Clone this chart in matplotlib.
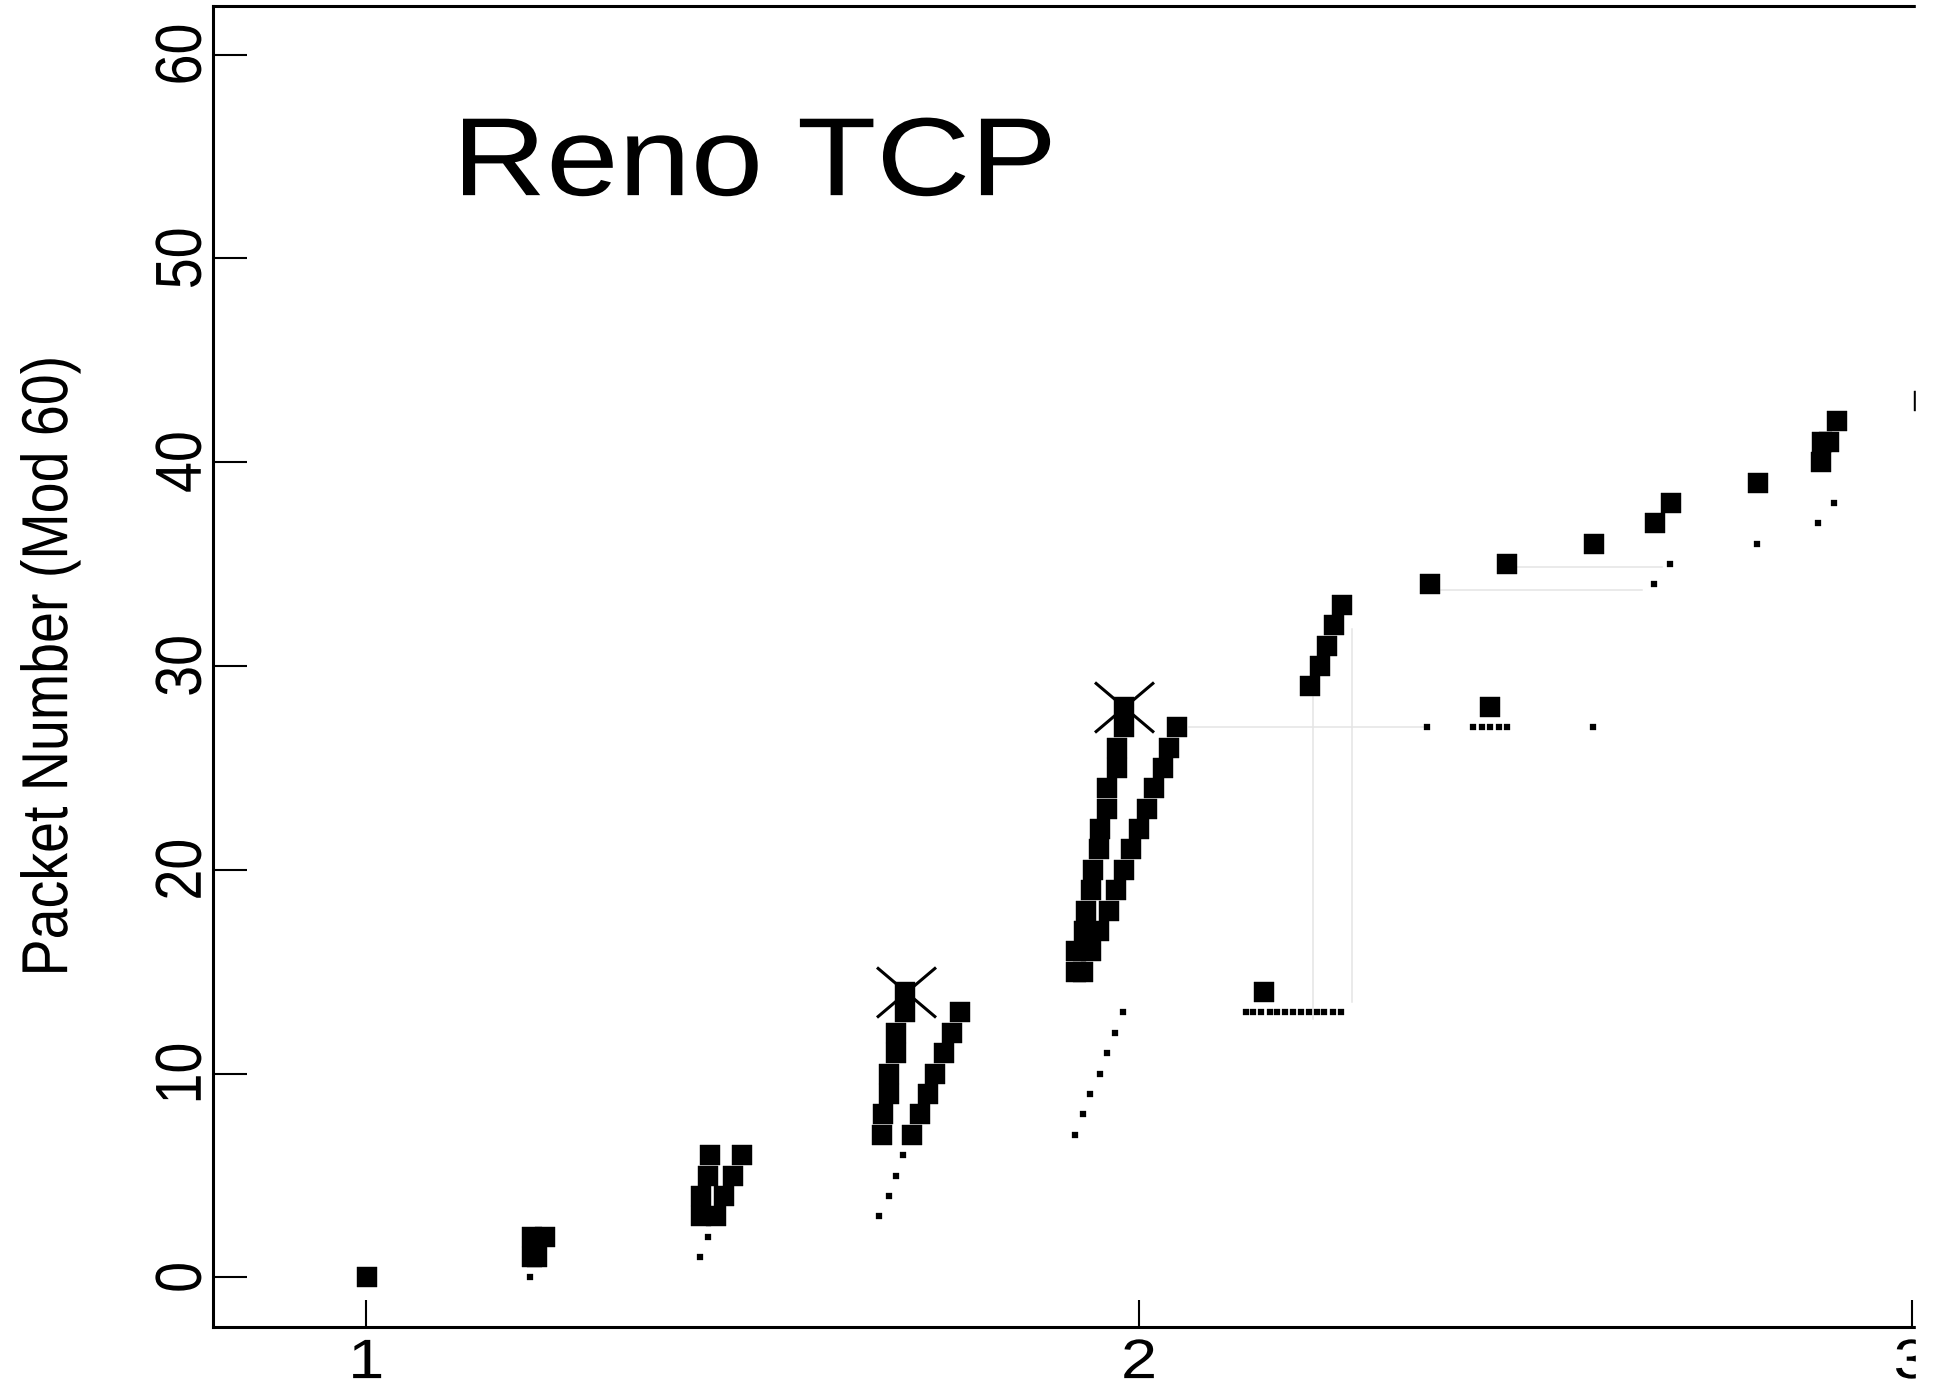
import matplotlib
matplotlib.use('Agg')
import matplotlib.pyplot as plt
import matplotlib.patheffects as pe
from matplotlib.path import Path
from matplotlib.patches import Rectangle
from matplotlib.transforms import Affine2D

plt.rcParams['font.family'] = ['Liberation Sans', 'DejaVu Sans']

# ------------------------- DATA -------------------------

# packets sent / leaving the queue (time in s, packet number mod 60)
pkt_time = [1.001,
            1.214, 1.221, 1.214, 1.231,
            1.433, 1.453, 1.433, 1.463, 1.442, 1.475, 1.445, 1.486,
            1.667, 1.669, 1.677, 1.677, 1.686, 1.686, 1.697, 1.697,
            1.706, 1.717, 1.727, 1.736, 1.748, 1.758, 1.768,
            1.918, 1.918, 1.929, 1.932, 1.938, 1.940, 1.948, 1.950,
            1.959, 1.959, 1.971, 1.971, 1.980, 1.980,
            1.927, 1.938, 1.948, 1.961, 1.970, 1.980, 1.990, 2.000,
            2.010, 2.019, 2.031, 2.039, 2.049,
            2.162,
            2.221, 2.234, 2.244, 2.253, 2.263,
            2.377, 2.455, 2.476, 2.589, 2.668, 2.688, 2.801,
            2.883, 2.884, 2.893, 2.903, 3.016]
pkt_num = [0,
           1, 1, 2, 2,
           3, 3, 4, 4, 5, 5, 6, 6,
           7, 8, 9, 10, 11, 12, 13, 14,
           7, 8, 9, 10, 11, 12, 13,
           15, 16, 17, 18, 19, 20, 21, 22,
           23, 24, 25, 26, 27, 28,
           15, 16, 17, 18, 19, 20, 21, 22,
           23, 24, 25, 26, 27,
           14,
           29, 30, 31, 32, 33,
           34, 28, 35, 36, 37, 38, 39,
           40, 41, 41, 42, 43]

# acks arriving at the sender
ack_time = [1.212,
            1.432, 1.442,
            1.664, 1.676, 1.686, 1.695,
            1.917, 1.927, 1.937, 1.949, 1.959, 1.969, 1.979,
            2.138, 2.148, 2.158, 2.169, 2.179, 2.189, 2.199,
            2.210, 2.220, 2.230, 2.240, 2.251, 2.261,
            2.373, 2.433, 2.444, 2.455, 2.466, 2.477, 2.588,
            2.667, 2.687, 2.800, 2.879, 2.899]
ack_num = [0,
           1, 2,
           3, 4, 5, 6,
           7, 8, 9, 10, 11, 12, 13,
           13, 13, 13, 13, 13, 13, 13,
           13, 13, 13, 13, 13, 13,
           27, 27, 27, 27, 27, 27, 27,
           34, 35, 36, 37, 38]

# dropped packets
drop_time = [1.699, 1.980]
drop_num = [14, 28]

# faint guide segments (t0, t1), (y0, y1)
guide_t = [(2.065, 2.370), (2.225, 2.225), (2.276, 2.276),
           (2.391, 2.651), (2.486, 2.677)]
guide_y = [(27, 27), (28.5, 12.7), (31.8, 13.5),
           (33.75, 33.75), (34.85, 34.85)]


# ------------------------- OUTPUT -------------------------

class HStretch(pe.AbstractPathEffect):
    # widen text horizontally about its own centre
    def __init__(self, sx):
        super().__init__()
        self.sx = sx

    def draw_path(self, renderer, gc, tpath, affine, rgbFace=None):
        bb = tpath.get_extents(affine)
        x0 = 0.5 * (bb.x0 + bb.x1)
        stretch = Affine2D().translate(-x0, 0).scale(self.sx, 1).translate(x0, 0)
        renderer.draw_path(gc, tpath, affine + stretch, rgbFace)


def dropMarker():
    # a slightly wide X
    verts = [(-1.18, -1), (1.18, 1), (-1.18, 1), (1.18, -1)]
    codes = [Path.MOVETO, Path.LINETO, Path.MOVETO, Path.LINETO]
    return Path(verts, codes)


def packetPlot():
    W, H = 1939, 1390
    fig = plt.figure(figsize=(W / 100, H / 100), dpi=100)

    x_lo, x_hi = 0.8015, 3.1
    px_per_s = 772.6
    ax = fig.add_axes([213 / W, 63 / H, (x_hi - x_lo) * px_per_s / W, 1321 / H])

    for t, y in zip(guide_t, guide_y):
        ax.plot(t, y, color='#e4e4e4', lw=1.1, zorder=1)

    ax.plot(pkt_time, pkt_num, 's', ms=14.2, mfc='k', mec='k', mew=0.3, zorder=3)
    ax.plot(ack_time, ack_num, 's', ms=4.0, mfc='k', mec='k', mew=0.2, zorder=3)
    ax.plot(drop_time, drop_num, ls='none', marker=dropMarker(), ms=42.5,
            mfc='none', mec='k', mew=2.2, zorder=4)

    ax.set_xlim(x_lo, x_hi)
    ax.set_ylim(-2.43, 62.38)
    ax.set_xticks([1, 2, 3])
    ax.set_yticks(range(0, 61, 10))

    ax.spines['right'].set_visible(False)
    for side in ['left', 'bottom', 'top']:
        ax.spines[side].set_linewidth(2.2)

    ax.tick_params(axis='y', direction='in', length=24.5, width=1.5,
                   labelsize=40, pad=2.5, labelrotation=90)
    ax.tick_params(axis='x', direction='in', length=19.5, width=1.5,
                   labelsize=40, pad=8)

    ylab = ax.set_ylabel('Packet Number (Mod 60)', fontsize=40)
    ax.yaxis.set_label_coords(-136.3 / ((x_hi - x_lo) * px_per_s), 0.5)

    title = ax.text(1.503, 53.1, 'Reno TCP', fontsize=80, ha='center', va='baseline')

    wide = [HStretch(1.17)]
    for lbl in ax.get_yticklabels():
        lbl.set_va('center')
        lbl.set_path_effects(wide)
    for lbl in ax.get_xticklabels():
        lbl.set_path_effects(wide)
    ylab.set_path_effects(wide)
    title.set_path_effects(wide)

    # page ends just past t = 3
    fig.add_artist(Rectangle((1916 / W, 0), 1, 1, transform=fig.transFigure,
                             color='white', zorder=10))

    fig.savefig('out.png', dpi=100)


if __name__ == "__main__":
    packetPlot()
